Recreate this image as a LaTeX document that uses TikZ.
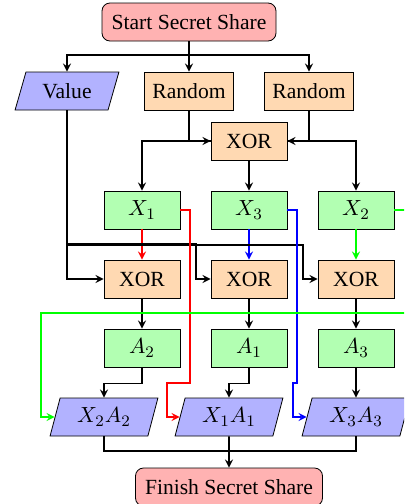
\documentclass[tikz,border=0pt]{standalone}
\usepackage{fontspec}
\setmainfont{Liberation Serif}
\newfontfamily\boxfont{Liberation Serif}
\usetikzlibrary{shapes.geometric}

\begin{document}
\begin{tikzpicture}[x=0.5pt,y=-0.5pt,>=stealth,
 box/.style={draw,font=\boxfont\fontsize{10.8}{13}\selectfont,minimum height=19pt,inner sep=2pt},
 term/.style={box,fill=red!30,rounded corners=4pt},
 proc/.style={box,fill=orange!30,minimum width=38pt},
 share/.style={box,fill=green!30,minimum width=38pt},
 io/.style={box,trapezium,trapezium left angle=75,trapezium right angle=105,
  trapezium stretches=true,fill=blue!30,minimum width=54pt},
 link/.style={->,thick}]

\path[use as bounding box,clip] (0,0) rectangle (404,504);

% top part
\node[term,minimum width=87pt] (start) at (189,22) {Start Secret Share};
\node[io,minimum width=52pt,trapezium left angle=72,trapezium right angle=108]
 (value) at (67,91) {Value};
\node[proc,minimum width=44.5pt] (rand1) at (189,91) {Random};
\node[proc,minimum width=44.5pt] (rand2) at (309,91) {Random};
\node[proc] (xor0) at (249,141) {XOR};

% the three columns
\foreach \i/\px/\ox/\s/\m/\c in {1/142/104/1/2/red,2/249/229/3/1/blue,3/356/356/2/3/green}
{
 \node[share] (sh\i) at (\px,210) {$X_\s$};
 \node[proc] (xr\i) at (\px,279) {XOR};
 \node[share] (am\i) at (\px,348) {$A_\m$};
 \node[io] (out\i) at (\ox,417) {$X_\m A_\m$};
 \draw[link,\c] (sh\i) -- (xr\i);
 \draw[link] (xr\i) -- (am\i);
 \draw[link] (am\i.south) -- ++(0,16) -| (out\i.north);
}

\node[term,minimum width=93.5pt] (finish) at (229,487) {Finish Secret Share};

\coordinate (fork) at (189,55);
\draw[link] (start.south) -- (fork) -| (value.north);
\draw[link] (fork) -| (rand2.north);
\draw[link] (start) -- (rand1);

\draw[link] (rand1.south) |- (xor0.west);
\draw[link] (xor0.west) -| (sh1.north);
\draw[link] (rand2.south) |- (xor0.east);
\draw[link] (xor0.east) -| (sh3.north);
\draw[link] (xor0) -- (sh2);

\draw[link] (value.south) |- (xr1.west);
\draw[link] (value.south) |- (196,244) |- (xr2.west);
\draw[link] (value.south) |- (303,245) |- (xr3.west);

\draw[link,red] (sh1.east) -| (190,383) -- (167,383) |- (out2.west);
\draw[link,blue] (sh2.east) -| (297,383) -- (293,383) |- (out3.west);
\draw[link,green] (sh3.east) -| (412,313) -- (41,313) |- (out1.west);

\coordinate (join) at (229,451);
\draw[thick] (out1.south) |- (join) -| (out3.south);
\draw[link] (out2.south) -- (finish.north);

\end{tikzpicture}
\end{document}
